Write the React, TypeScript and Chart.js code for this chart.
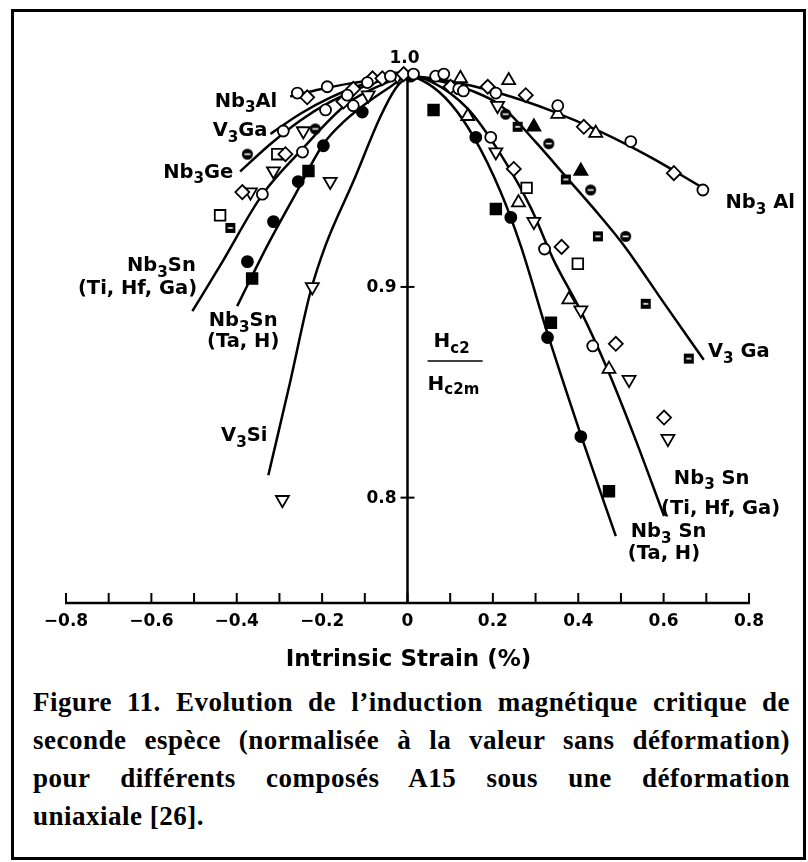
import React, { useEffect, useRef } from 'react';
import { Chart, registerables } from 'chart.js';

Chart.register(...registerables);

// ---------------- Axis ticks ----------------
const X_MIN = -0.8;
const X_MAX = 0.8;
const Y_MIN = 0.75;
const Y_MAX = 1.002;
const X_TICK_VALUES = [-0.8, -0.7, -0.6, -0.5, -0.4, -0.3, -0.2, -0.1, 0, 0.1, 0.2, 0.3, 0.4, 0.5, 0.6, 0.7, 0.8];
const X_LABEL_VALUES = [-0.8, -0.6, -0.4, -0.2, 0, 0.2, 0.4, 0.6, 0.8];
const X_LABELS = ['\u22120.8', '\u22120.6', '\u22120.4', '\u22120.2', '0', '0.2', '0.4', '0.6', '0.8'];
const Y_TICK_VALUES = [0.8, 0.9];
const Y_LABELS = ['0.8', '0.9'];
const Y_TOP_VALUE = 1.0;
const Y_TOP_LABEL = '1.0';
const X_TITLE = 'Intrinsic Strain (%)';
const RATIO_NUM = 'H_{c2}';
const RATIO_DEN = 'H_{c2m}';

// ---------------- Fitted curves ----------------
const NB3AL_CURVE_X = [-0.275, -0.204, -0.134, -0.063, 0, 0.101, 0.218, 0.336, 0.453, 0.570, 0.687];
const NB3AL_CURVE_Y = [0.9904, 0.9938, 0.9966, 0.9986, 1.0, 0.9976, 0.9918, 0.9837, 0.9736, 0.9615, 0.9476];

const V3GA_CURVE_X = [-0.321, -0.251, -0.181, -0.110, -0.052, 0, 0.077, 0.148, 0.218, 0.300, 0.375, 0.453, 0.507, 0.601, 0.694];
const V3GA_CURVE_Y = [0.9726, 0.9822, 0.9898, 0.9957, 0.9988, 1.0, 0.9976, 0.9933, 0.9861, 0.9688, 0.9514, 0.9332, 0.9197, 0.8923, 0.8654];

const NB3GE_CURVE_X = [-0.392, -0.321, -0.251, -0.181, -0.110, -0.052, 0];
const NB3GE_CURVE_Y = [0.9548, 0.9678, 0.9790, 0.9878, 0.9945, 0.9984, 1.0];

const NB3SN_TI_CURVE_X = [-0.504, -0.439, -0.340, -0.246, -0.141, -0.063, 0, 0.054, 0.141, 0.218, 0.289, 0.343, 0.406, 0.469, 0.530, 0.601];
const NB3SN_TI_CURVE_Y = [0.8885, 0.9101, 0.9438, 0.9655, 0.9870, 0.9957, 1.0, 0.9976, 0.9846, 0.9630, 0.9375, 0.9125, 0.8885, 0.8606, 0.8298, 0.7913];

const NB3SN_TA_CURVE_X = [-0.399, -0.364, -0.328, -0.263, -0.197, -0.146, -0.094, -0.040, 0, 0.047, 0.101, 0.155, 0.218, 0.265, 0.328, 0.406, 0.488];
const NB3SN_TA_CURVE_Y = [0.8909, 0.9053, 0.9197, 0.9438, 0.9678, 0.9790, 0.9875, 0.9950, 1.0, 0.9966, 0.9870, 0.9712, 0.9452, 0.9197, 0.8779, 0.8298, 0.7817];

const V3SI_CURVE_X = [-0.326, -0.275, -0.228, -0.192, -0.127, -0.063, -0.028, 0];
const V3SI_CURVE_Y = [0.8106, 0.8548, 0.8971, 0.9197, 0.9500, 0.9810, 0.9942, 1.0];

// ---------------- Measured points (by symbol) ----------------
const OPEN_CIRCLE_X = [0.066, 0.085, 0.120, 0.131, 0.207, 0.352, 0.523, 0.692, 0.195, 0.321, 0.434, -0.258, -0.188, -0.094, -0.141, -0.040, -0.192, -0.127, -0.246, -0.340, -0.291, 0.014];
const OPEN_CIRCLE_Y = [1.000, 1.001, 0.994, 0.993, 0.992, 0.986, 0.969, 0.946, 0.971, 0.918, 0.872, 0.992, 0.995, 0.997, 0.991, 1.000, 0.984, 0.986, 0.964, 0.944, 0.974, 1.001];

const OPEN_DIAMOND_X = [-0.009, 0.101, 0.188, 0.277, 0.413, 0.624, 0.249, 0.361, 0.488, 0.601, -0.082, -0.127, -0.059, -0.286, -0.387, -0.150, -0.235];
const OPEN_DIAMOND_Y = [1.001, 0.995, 0.995, 0.991, 0.976, 0.954, 0.956, 0.919, 0.873, 0.838, 0.999, 0.994, 0.999, 0.963, 0.945, 0.988, 0.990];

const OPEN_SQUARE_X = [0.279, 0.399, -0.305, -0.439];
const OPEN_SQUARE_Y = [0.947, 0.911, 0.963, 0.934];

const OPEN_TRIANGLE_X = [0.124, 0.237, 0.352, 0.441, 0.141, 0.260, 0.378, 0.472];
const OPEN_TRIANGLE_Y = [0.999, 0.998, 0.982, 0.973, 0.981, 0.940, 0.894, 0.861];

const OPEN_DOWN_TRIANGLE_X = [0.211, 0.207, 0.296, 0.406, 0.519, 0.610, -0.092, -0.024, -0.244, -0.314, -0.368, -0.181, -0.223, -0.293];
const OPEN_DOWN_TRIANGLE_Y = [0.986, 0.964, 0.931, 0.889, 0.856, 0.828, 0.991, 1.000, 0.974, 0.955, 0.945, 0.950, 0.900, 0.799];

const FILLED_CIRCLE_X = [0.160, 0.242, 0.328, 0.406, -0.106, -0.197, -0.256, -0.314, -0.375, 0.007];
const FILLED_CIRCLE_Y = [0.971, 0.933, 0.876, 0.829, 0.983, 0.967, 0.950, 0.931, 0.912, 1.000];

const FILLED_SQUARE_X = [0.061, 0.207, 0.336, 0.472, -0.232, -0.364];
const FILLED_SQUARE_Y = [0.984, 0.937, 0.883, 0.803, 0.955, 0.904];

const FILLED_TRIANGLE_X = [0.296, 0.406];
const FILLED_TRIANGLE_Y = [0.976, 0.955];

const HALF_CIRCLE_X = [0.230, 0.331, 0.429, 0.511, -0.216, -0.375];
const HALF_CIRCLE_Y = [0.982, 0.968, 0.946, 0.924, 0.975, 0.963];

const HALF_SQUARE_X = [0.258, 0.371, 0.446, 0.558, 0.659, -0.415];
const HALF_SQUARE_Y = [0.976, 0.951, 0.924, 0.892, 0.866, 0.928];

// ---------------- Curve labels ----------------
const CURVE_LABEL_TEXTS = [
  'Nb_{3}Al', 'V_{3}Ga', 'Nb_{3}Ge', 'Nb_{3}Sn', '(Ti, Hf, Ga)', 'Nb_{3}Sn', '(Ta, H)', 'V_{3}Si',
  'Nb_{3} Al', 'V_{3} Ga', 'Nb_{3} Sn', '(Ti, Hf, Ga)', 'Nb_{3} Sn', '(Ta, H)',
];

const CAPTION_LINES = [
  'Figure 11. Evolution de l\u2019induction magn\u00e9tique critique de',
  'seconde esp\u00e8ce (normalis\u00e9e \u00e0 la valeur sans d\u00e9formation)',
  'pour diff\u00e9rents compos\u00e9s A15 sous une d\u00e9formation',
  'uniaxiale [26].',
];

// placement of the curve labels (data coordinates of the text anchor)
const LABEL_PLACES: { x: number; y: number; align: CanvasTextAlign }[] = [
  { x: -0.305, y: 0.9856, align: 'right' },
  { x: -0.328, y: 0.9716, align: 'right' },
  { x: -0.408, y: 0.9519, align: 'right' },
  { x: -0.496, y: 0.9077, align: 'right' },
  { x: -0.493, y: 0.8966, align: 'right' },
  { x: -0.385, y: 0.8813, align: 'center' },
  { x: -0.385, y: 0.8716, align: 'center' },
  { x: -0.328, y: 0.8269, align: 'right' },
  { x: 0.745, y: 0.9375, align: 'left' },
  { x: 0.704, y: 0.8668, align: 'left' },
  { x: 0.624, y: 0.8067, align: 'left' },
  { x: 0.594, y: 0.7923, align: 'left' },
  { x: 0.523, y: 0.7813, align: 'left' },
  { x: 0.516, y: 0.7707, align: 'left' },
];

const FONT = '"DejaVu Sans", "Liberation Sans", sans-serif';

type Seg = { t: string; sub: boolean };
function parseRich(s: string): Seg[] {
  const out: Seg[] = [];
  const re = /_\{([^}]*)\}/g;
  let last = 0;
  let m: RegExpExecArray | null;
  while ((m = re.exec(s))) {
    if (m.index > last) out.push({ t: s.slice(last, m.index), sub: false });
    out.push({ t: m[1], sub: true });
    last = m.index + m[0].length;
  }
  if (last < s.length) out.push({ t: s.slice(last), sub: false });
  return out;
}

function drawRich(
  ctx: CanvasRenderingContext2D,
  text: string,
  x: number,
  y: number,
  align: CanvasTextAlign,
  size: number,
  subScale = 0.78,
  subDrop = 0.3
) {
  const segs = parseRich(text);
  const widths = segs.map((sg) => {
    ctx.font = `bold ${sg.sub ? size * subScale : size}px ${FONT}`;
    return ctx.measureText(sg.t).width;
  });
  const total = widths.reduce((a, b) => a + b, 0);
  let cx = align === 'right' ? x - total : align === 'center' ? x - total / 2 : x;
  ctx.textAlign = 'left';
  ctx.textBaseline = 'alphabetic';
  segs.forEach((sg, i) => {
    ctx.font = `bold ${sg.sub ? size * subScale : size}px ${FONT}`;
    ctx.fillText(sg.t, cx, sg.sub ? y + size * subDrop : y);
    cx += widths[i];
  });
}

function makeHalfSymbol(kind: 'circle' | 'square', size: number): HTMLCanvasElement {
  const c = document.createElement('canvas');
  const s = size + 4;
  c.width = s;
  c.height = s;
  const g = c.getContext('2d') as CanvasRenderingContext2D;
  const m = s / 2;
  const h = size / 2;
  g.fillStyle = '#000';
  g.beginPath();
  if (kind === 'circle') g.arc(m, m, h, 0, Math.PI * 2);
  else g.rect(m - h, m - h, size, size);
  g.fill();
  g.strokeStyle = '#fff';
  g.lineWidth = 1.6;
  g.beginPath();
  g.moveTo(m - h + 2.5, m);
  g.lineTo(m + h - 2.5, m);
  g.stroke();
  return c;
}

const zip = (xs: number[], ys: number[]) => xs.map((x, i) => ({ x, y: ys[i] }));

const crossAxes = {
  id: 'crossAxes',
  beforeDatasetsDraw(chart: any) {
    const { ctx, chartArea, scales } = chart;
    const sx = scales.x;
    const sy = scales.y;
    const x0 = sx.getPixelForValue(0);
    const yb = chartArea.bottom;
    ctx.save();
    ctx.strokeStyle = '#000';
    ctx.lineWidth = 2.5;
    ctx.beginPath();
    ctx.moveTo(sx.getPixelForValue(X_MIN) - 1, yb);
    ctx.lineTo(sx.getPixelForValue(X_MAX) + 1, yb);
    ctx.stroke();
    ctx.beginPath();
    ctx.moveTo(x0, yb);
    ctx.lineTo(x0, chartArea.top);
    ctx.stroke();
    ctx.lineWidth = 2;
    X_TICK_VALUES.forEach((v) => {
      const px = sx.getPixelForValue(v);
      ctx.beginPath();
      ctx.moveTo(px, yb);
      ctx.lineTo(px, yb - 10);
      ctx.stroke();
    });
    Y_TICK_VALUES.forEach((v) => {
      const py = sy.getPixelForValue(v);
      ctx.beginPath();
      ctx.moveTo(x0 - 7, py);
      ctx.lineTo(x0 + 7, py);
      ctx.stroke();
    });
    ctx.restore();
  },
  afterDraw(chart: any) {
    const { ctx, chartArea, scales } = chart;
    const sx = scales.x;
    const sy = scales.y;
    const x0 = sx.getPixelForValue(0);
    const yb = chartArea.bottom;
    ctx.save();
    ctx.fillStyle = '#000';
    // x tick labels
    ctx.font = `bold 17px ${FONT}`;
    ctx.textAlign = 'center';
    ctx.textBaseline = 'alphabetic';
    X_LABEL_VALUES.forEach((v, i) => {
      ctx.fillText(X_LABELS[i], sx.getPixelForValue(v), yb + 22.5);
    });
    // y tick labels
    ctx.textAlign = 'right';
    ctx.textBaseline = 'middle';
    Y_TICK_VALUES.forEach((v, i) => {
      ctx.fillText(Y_LABELS[i], x0 - 11, sy.getPixelForValue(v) + 1);
    });
    ctx.textAlign = 'center';
    ctx.fillText(Y_TOP_LABEL, x0 - 3, sy.getPixelForValue(Y_TOP_VALUE) - 18);
    // axis title
    ctx.font = `bold 23px ${FONT}`;
    ctx.textBaseline = 'middle';
    ctx.fillText(X_TITLE, x0 + 1, yb + 57);
    // curve labels
    CURVE_LABEL_TEXTS.forEach((t, i) => {
      const p = LABEL_PLACES[i];
      drawRich(ctx, t, sx.getPixelForValue(p.x), sy.getPixelForValue(p.y), p.align, 19.5);
    });
    // Hc2 / Hc2m ratio label
    const fx1 = sx.getPixelForValue(0.047);
    const fx2 = sx.getPixelForValue(0.176);
    const fy = sy.getPixelForValue(0.8649);
    drawRich(ctx, RATIO_NUM, sx.getPixelForValue(0.061), sy.getPixelForValue(0.8716), 'left', 20, 0.75, 0.32);
    ctx.strokeStyle = '#000';
    ctx.lineWidth = 1.5;
    ctx.beginPath();
    ctx.moveTo(fx1, fy);
    ctx.lineTo(fx2, fy);
    ctx.stroke();
    drawRich(ctx, RATIO_DEN, fx1, sy.getPixelForValue(0.8510), 'left', 20, 0.75, 0.2);
    ctx.restore();
  },
};

export default function App() {
  const ref = useRef<HTMLCanvasElement | null>(null);

  useEffect(() => {
    const canvas = ref.current;
    if (!canvas) return;
    const halfCircle = makeHalfSymbol('circle', 11);
    const halfSquare = makeHalfSymbol('square', 10);

    const curve = (xs: number[], ys: number[], label: string) => ({
      type: 'scatter' as const,
      label,
      data: zip(xs, ys),
      showLine: true,
      borderColor: '#000',
      borderWidth: 2.5,
      pointRadius: 0,
      cubicInterpolationMode: 'monotone' as const,
      fill: false,
      order: 2,
    });
    const marker = (
      xs: number[],
      ys: number[],
      label: string,
      style: any,
      radius: number,
      bg: string,
      rotation = 0
    ) => ({
      type: 'scatter' as const,
      label,
      data: zip(xs, ys),
      showLine: false,
      pointStyle: style,
      pointRadius: radius,
      pointRotation: rotation,
      pointBackgroundColor: bg,
      pointBorderColor: '#000',
      pointBorderWidth: 1.8,
      order: 1,
      clip: false as any,
    });

    const chart = new Chart(canvas, {
      type: 'scatter',
      data: {
        datasets: [
          curve(NB3AL_CURVE_X, NB3AL_CURVE_Y, 'Nb3Al'),
          curve(V3GA_CURVE_X, V3GA_CURVE_Y, 'V3Ga'),
          curve(NB3GE_CURVE_X, NB3GE_CURVE_Y, 'Nb3Ge'),
          curve(NB3SN_TI_CURVE_X, NB3SN_TI_CURVE_Y, 'Nb3Sn (Ti, Hf, Ga)'),
          curve(NB3SN_TA_CURVE_X, NB3SN_TA_CURVE_Y, 'Nb3Sn (Ta, H)'),
          curve(V3SI_CURVE_X, V3SI_CURVE_Y, 'V3Si'),
          marker(OPEN_CIRCLE_X, OPEN_CIRCLE_Y, 'open circle', 'circle', 5.5, '#fff'),
          marker(OPEN_DIAMOND_X, OPEN_DIAMOND_Y, 'open diamond', 'rectRot', 7, '#fff'),
          marker(OPEN_SQUARE_X, OPEN_SQUARE_Y, 'open square', 'rect', 7.5, '#fff'),
          marker(OPEN_TRIANGLE_X, OPEN_TRIANGLE_Y, 'open triangle', 'triangle', 7.5, '#fff'),
          marker(OPEN_DOWN_TRIANGLE_X, OPEN_DOWN_TRIANGLE_Y, 'open down triangle', 'triangle', 7.5, '#fff', 180),
          marker(FILLED_CIRCLE_X, FILLED_CIRCLE_Y, 'filled circle', 'circle', 5.5, '#000'),
          marker(FILLED_SQUARE_X, FILLED_SQUARE_Y, 'filled square', 'rect', 7.5, '#000'),
          marker(FILLED_TRIANGLE_X, FILLED_TRIANGLE_Y, 'filled triangle', 'triangle', 7.5, '#000'),
          marker(HALF_CIRCLE_X, HALF_CIRCLE_Y, 'half circle', halfCircle, 6, '#000'),
          marker(HALF_SQUARE_X, HALF_SQUARE_Y, 'half square', halfSquare, 6, '#000'),
        ] as any,
      },
      options: {
        animation: false,
        responsive: false,
        maintainAspectRatio: false,
        events: [],
        layout: { padding: { left: 66, right: 59, top: 72, bottom: 77 } },
        scales: {
          x: { type: 'linear', min: X_MIN, max: X_MAX, display: false },
          y: { type: 'linear', min: Y_MIN, max: Y_MAX, display: false },
        },
        plugins: {
          legend: { display: false },
          tooltip: { enabled: false },
        },
      },
      plugins: [crossAxes],
    });
    return () => chart.destroy();
  }, []);

  return (
    <div style={{ position: 'absolute', left: 0, top: 0, width: 808, height: 862, background: '#fff', overflow: 'hidden' }}>
      <div
        style={{
          position: 'absolute',
          left: 11,
          top: 9,
          width: 795,
          height: 851,
          border: '3px solid #000',
          boxSizing: 'border-box',
        }}
      />
      <canvas ref={ref} width={808} height={680} style={{ position: 'absolute', left: 0, top: 0, display: 'block' }} />
      <div
        style={{
          position: 'absolute',
          left: 33,
          top: 683,
          width: 757,
          fontFamily: '"Liberation Serif", "Times New Roman", serif',
          fontWeight: 'bold',
          fontSize: 27,
          letterSpacing: '0.5px',
          lineHeight: '38px',
          color: '#000',
        }}
      >
        {CAPTION_LINES.map((line, i) => (
          <div
            key={i}
            style={{
              textAlign: i < CAPTION_LINES.length - 1 ? 'justify' : 'left',
              textAlignLast: i < CAPTION_LINES.length - 1 ? 'justify' : 'left',
            }}
          >
            {line}
          </div>
        ))}
      </div>
    </div>
  );
}
